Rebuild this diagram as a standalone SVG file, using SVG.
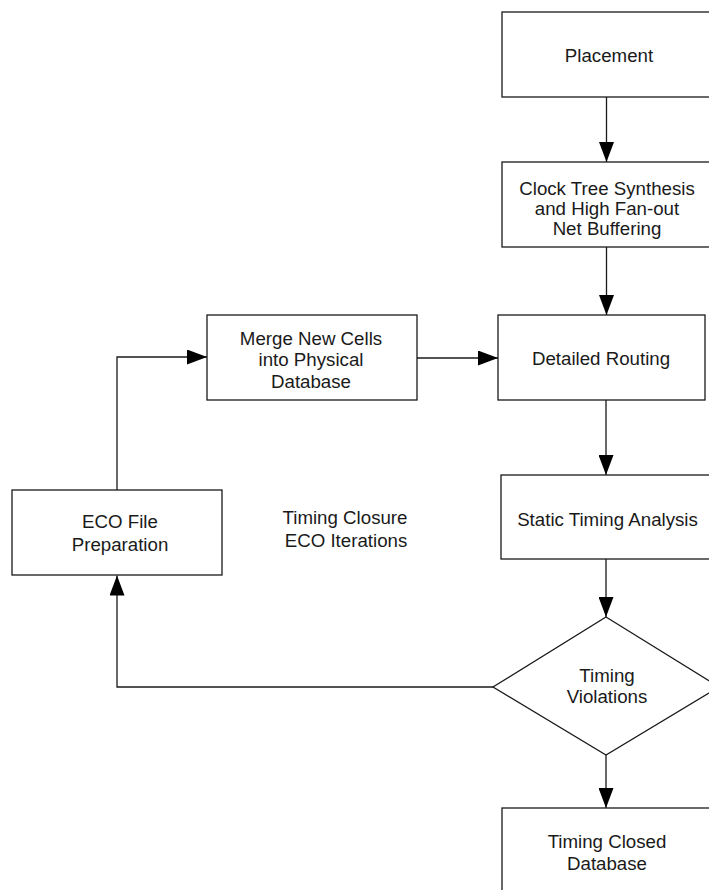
<svg xmlns="http://www.w3.org/2000/svg" width="709" height="890" viewBox="0 0 709 890">
<style>
.box{fill:#fff;stroke:#1a1a1a;stroke-width:1.3}
.ln{fill:none;stroke:#1a1a1a;stroke-width:1.3}
text{font-family:"Liberation Sans",Arial,sans-serif;font-size:18.7px;fill:#1a1a1a;text-anchor:middle}
</style>
<defs>
<marker id="ah" viewBox="0 0 20 15" refX="20" refY="7.5" markerWidth="20" markerHeight="15" markerUnits="userSpaceOnUse" orient="auto">
<path d="M0,0 L20,7.5 L0,15 z" fill="#000"/>
</marker>
</defs>
<rect width="709" height="890" fill="#fff"/>
<g id="connectors">
<line class="ln" x1="606.5" y1="97" x2="606.5" y2="162" marker-end="url(#ah)"/>
<line class="ln" x1="606.5" y1="247" x2="606.5" y2="315" marker-end="url(#ah)"/>
<line class="ln" x1="417" y1="358" x2="498" y2="358" marker-end="url(#ah)"/>
<path class="ln" d="M117,490 V357 H207" marker-end="url(#ah)"/>
<line class="ln" x1="606" y1="400" x2="606" y2="475" marker-end="url(#ah)"/>
<line class="ln" x1="606" y1="559" x2="606" y2="617" marker-end="url(#ah)"/>
<path class="ln" d="M493,687 H117 V575.5" marker-end="url(#ah)"/>
<line class="ln" x1="606" y1="755" x2="606" y2="808" marker-end="url(#ah)"/>
</g>
<g id="placement">
<rect class="box" x="502" y="12" width="215" height="85"/>
<text x="609" y="61.5">Placement</text>
</g>
<g id="cts">
<rect class="box" x="502" y="162" width="215" height="85"/>
<text x="607" y="194.5">Clock Tree Synthesis</text>
<text x="607" y="214.5">and High Fan-out</text>
<text x="607" y="234.5">Net Buffering</text>
</g>
<g id="merge">
<rect class="box" x="207" y="315" width="210" height="85"/>
<text x="311" y="345">Merge New Cells</text>
<text x="311" y="366">into Physical</text>
<text x="311" y="387.5">Database</text>
</g>
<g id="routing">
<rect class="box" x="498" y="315" width="207" height="85"/>
<text x="601" y="364.5">Detailed Routing</text>
</g>
<g id="eco">
<rect class="box" x="12" y="490" width="210" height="85"/>
<text x="120" y="528">ECO File</text>
<text x="120" y="550.5">Preparation</text>
</g>
<g id="label">
<text x="345" y="524">Timing Closure</text>
<text x="346" y="546.5">ECO Iterations</text>
</g>
<g id="sta">
<rect class="box" x="501" y="475" width="215" height="84"/>
<text x="607.5" y="526">Static Timing Analysis</text>
</g>
<g id="violations">
<polygon class="box" points="606,617 719,687 606,755 493,687"/>
<text x="607" y="681.5">Timing</text>
<text x="607" y="703">Violations</text>
</g>
<g id="closed">
<rect class="box" x="502" y="808" width="215" height="100"/>
<text x="607" y="848">Timing Closed</text>
<text x="607" y="870">Database</text>
</g>
</svg>
